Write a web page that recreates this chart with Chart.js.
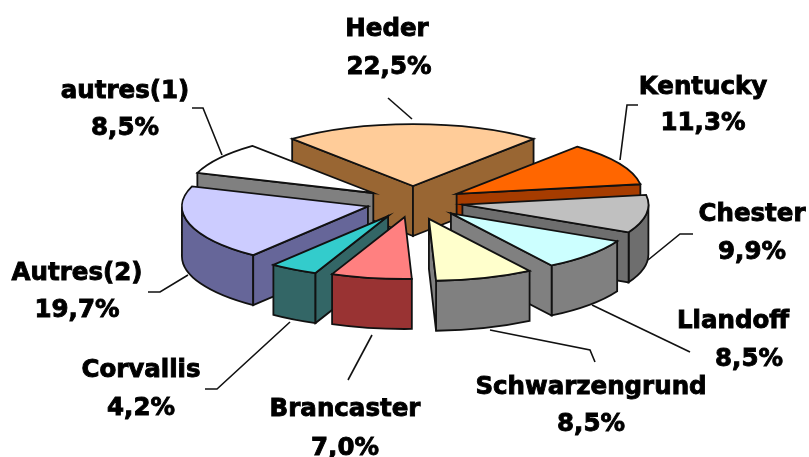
<!DOCTYPE html>
<html>
<head>
<meta charset="utf-8">
<title>Pie</title>
<script src="https://cdn.jsdelivr.net/npm/chart.js@4"></script>
<style>
  html, body { margin: 0; background: #fff; }
  canvas { display: block; filter: blur(0.6px); }
</style>
</head>
<body>
<canvas id="myChart" width="809" height="457"></canvas>
<script>
// Data
const categories = ['Heder', 'Kentucky', 'Chester', 'Llandoff', 'Schwarzengrund', 'Brancaster', 'Corvallis', 'Autres(2)', 'autres(1)'];
const shares = [22.5, 11.3, 9.9, 8.5, 8.5, 7.0, 4.2, 19.7, 8.5];

// Colours of the top faces and of the walls
const topColors = ['#FFCC99', '#FF6600', '#C0C0C0', '#CCFFFF', '#FFFFCC', '#FF8080', '#33CCCC', '#CCCCFF', '#FFFFFF'];
const wallColors = ['#996633', '#A63C00', '#6E6E6E', '#808080', '#808080', '#993333', '#336666', '#666699', '#808080'];

// How far each slice is pulled out of the pie
const explode = [48, 50, 50, 51, 53, 46, 49, 47, 48];

// Label centres and leader lines
const labelSpots = [
    { x: 387, y: 28, px: 389, py: 66, line: [[388, 98], [412, 119]] },
    { x: 703, y: 86, px: 703, py: 122, line: [[638, 105], [627, 105], [620, 160]] },
    { x: 752, y: 213, px: 752, py: 251, line: [[693, 234], [680, 234], [648, 260]] },
    { x: 733, y: 320, px: 749, py: 358, line: [[592, 305], [690, 352]] },
    { x: 591, y: 386, px: 591, py: 423, line: [[490, 330], [590, 350], [595, 362]] },
    { x: 345, y: 408, px: 345, py: 447, line: [[372, 335], [348, 380]] },
    { x: 141, y: 369, px: 141, py: 407, line: [[205, 389], [217, 389], [290, 322]] },
    { x: 77, y: 272, px: 77, py: 309, line: [[148, 292], [160, 292], [188, 275]] },
    { x: 125, y: 90, px: 125, py: 127, line: [[192, 108], [203, 108], [222, 155]] }
];

const centerX = 413;
const centerY = 202;
const squash = 0.333;
const depth = 50;

function outlined(ctx, fill) {
    if (fill) {
        ctx.fillStyle = fill;
        ctx.fill();
    }
    ctx.strokeStyle = '#111';
    ctx.lineWidth = 1.8;
    ctx.stroke();
}

function drawWalls(ctx, arc, ax, ay, color) {
    const r = arc.outerRadius;
    const ry = r * squash;
    const a0 = arc.startAngle;
    const a1 = arc.endAngle;

    // outer curved wall, only the part facing us
    for (const base of [-2 * Math.PI, 0, 2 * Math.PI]) {
        const lo = Math.max(a0, base);
        const hi = Math.min(a1, base + Math.PI);
        if (lo < hi) {
            ctx.beginPath();
            ctx.ellipse(ax, ay, r, ry, 0, lo, hi);
            ctx.ellipse(ax, ay + depth, r, ry, 0, hi, lo, true);
            ctx.closePath();
            outlined(ctx, color);
        }
    }

    // the two cut faces
    const faces = [[a0, a0 - Math.PI / 2], [a1, a1 + Math.PI / 2]];
    for (const [edge, normal] of faces) {
        if (Math.sin(normal) > 0) {
            const ex = ax + Math.cos(edge) * r;
            const ey = ay + Math.sin(edge) * ry;
            ctx.beginPath();
            ctx.moveTo(ax, ay);
            ctx.lineTo(ex, ey);
            ctx.lineTo(ex, ey + depth);
            ctx.lineTo(ax, ay + depth);
            ctx.closePath();
            outlined(ctx, color);
        }
    }
}

function drawTop(ctx, arc, ax, ay) {
    ctx.save();
    ctx.translate(ax, ay);
    ctx.scale(1, squash);
    ctx.translate(-arc.x, -arc.y);
    arc.draw(ctx);
    ctx.restore();

    ctx.beginPath();
    ctx.moveTo(ax, ay);
    ctx.ellipse(ax, ay, arc.outerRadius, arc.outerRadius * squash, 0, arc.startAngle, arc.endAngle);
    ctx.closePath();
    outlined(ctx);
}

const pie3d = {
    id: 'pie3d',
    beforeDatasetsDraw(chart) {
        const ctx = chart.ctx;
        const arcs = chart.getDatasetMeta(0).data;
        const slices = arcs.map((arc, i) => {
            const mid = (arc.startAngle + arc.endAngle) / 2;
            return {
                arc, i,
                ax: centerX + Math.cos(mid) * explode[i],
                ay: centerY + Math.sin(mid) * explode[i] * squash
            };
        });
        // back slices first
        slices.sort((a, b) => a.ay - b.ay);
        ctx.save();
        ctx.lineJoin = 'miter';
        slices.forEach(s => {
            drawWalls(ctx, s.arc, s.ax, s.ay, wallColors[s.i]);
            drawTop(ctx, s.arc, s.ax, s.ay);
        });
        ctx.restore();
        return false;
    },
    // returning false above also skips afterDatasetsDraw, so labels go here
    afterDraw(chart) {
        const ctx = chart.ctx;
        ctx.save();
        ctx.strokeStyle = '#111';
        ctx.lineWidth = 1.6;
        labelSpots.forEach(spot => {
            ctx.beginPath();
            spot.line.forEach(([x, y], n) => (n ? ctx.lineTo(x, y) : ctx.moveTo(x, y)));
            ctx.stroke();
        });
        ctx.fillStyle = '#000';
        ctx.strokeStyle = '#000';
        ctx.lineWidth = 0.9;
        ctx.font = 'bold 24.5px "DejaVu Sans"';
        ctx.textAlign = 'center';
        ctx.textBaseline = 'middle';
        const put = (text, x, y) => {
            ctx.fillText(text, x, y + 2);
            ctx.strokeText(text, x, y + 2);
        };
        categories.forEach((name, i) => {
            const spot = labelSpots[i];
            put(name, spot.x, spot.y);
            put(shares[i].toFixed(1).replace('.', ',') + '%', spot.px, spot.py);
        });
        ctx.restore();
    }
};

const myChart = new Chart(document.getElementById('myChart').getContext('2d'), {
    type: 'pie',
    data: {
        labels: categories,
        datasets: [{
            data: shares,
            backgroundColor: topColors,
            borderWidth: 0,
            radius: 186
        }]
    },
    options: {
        responsive: false,
        animation: false,
        rotation: -40.5,
        plugins: {
            legend: { display: false },
            tooltip: { enabled: false }
        }
    },
    plugins: [pie3d]
});
</script>
</body>
</html>
